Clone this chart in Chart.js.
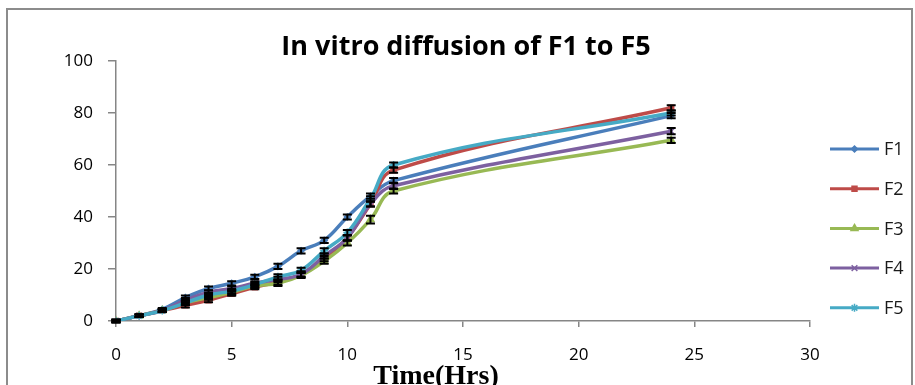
<!DOCTYPE html>
<html>
<head>
<meta charset="utf-8">
<script src="https://cdn.jsdelivr.net/npm/chart.js@4/dist/chart.umd.min.js"></script>
<style>
  html, body { margin: 0; padding: 0; background: #fff; }
  #wrap { width: 915px; height: 385px; }
</style>
</head>
<body>
<div id="wrap"><canvas id="c" width="915" height="385"></canvas></div>
<script>
// ---- data ----
const times = [0, 1, 2, 3, 4, 5, 6, 7, 8, 9, 10, 11, 12, 24];
const seriesNames = ["F1", "F2", "F3", "F4", "F5"];
const f1 = [0, 2, 4.5, 9, 12.5, 14.5, 17, 21, 27, 31, 40, 48, 54, 79];
const f2 = [0, 2, 4, 6, 8, 10.5, 13, 15, 18, 24, 32, 45, 58, 82];
const f3 = [0, 2, 4, 7, 9, 11, 13.5, 14.5, 17.5, 23, 30, 39, 50, 69.5];
const f4 = [0, 2, 4, 8, 11, 12.5, 14.5, 16, 18, 25, 32, 45, 52, 73];
const f5 = [0, 2, 4, 7, 10, 11.5, 14, 17, 19.5, 27, 34, 47, 60, 80];
const err1 = [0.5, 0.5, 0.5, 0.8, 0.8, 0.8, 0.8, 1, 1, 1, 1, 1, 1, 1];
const err2 = [0.5, 0.5, 0.5, 0.8, 0.8, 0.8, 0.8, 1, 1, 1, 1, 1, 1, 1];
const err3 = [0.5, 0.5, 0.5, 0.8, 0.8, 0.8, 0.8, 1, 1, 1, 1, 1.5, 1, 1];
const err4 = [0.5, 0.5, 0.5, 0.8, 0.8, 0.8, 0.8, 1, 1, 1, 1, 1, 1.2, 1.2];
const err5 = [0.5, 0.5, 0.5, 0.8, 0.8, 0.8, 0.8, 1, 1, 1, 1, 1, 1, 1];
const xTicks = [0, 5, 10, 15, 20, 25, 30];
const yTicks = [0, 20, 40, 60, 80, 100];
const titleText = "In vitro diffusion of F1 to F5";
const xTitleText = "Time(Hrs)";

// ---- styles ----
const colors = ["#4A7EBB", "#BE4B48", "#98B954", "#7D60A0", "#46AAC5"];
const markers = ["rectRot", "rect", "triangle", "crossRot", "star"];
const markerR = [3, 3.5, 4, 4, 4];
const values = [f1, f2, f3, f4, f5];
const errs = [err1, err2, err3, err4, err5];
const tickFont = { family: '"Liberation Sans Narrow", "Open Sans", sans-serif', size: 17 };

const datasets = values.map((vals, i) => ({
  label: seriesNames[i],
  data: times.map((t, j) => ({ x: t, y: vals[j] })),
  borderColor: colors[i],
  backgroundColor: colors[i],
  borderWidth: 3.5,
  pointStyle: markers[i],
  pointRadius: markerR[i],
  pointBorderWidth: 1.5,
  pointBorderColor: colors[i],
  pointBackgroundColor: colors[i],
  tension: 0.4,
  order: 4 - i
}));

const framePlugin = {
  id: 'frame',
  beforeDraw(chart) {
    const ctx = chart.ctx;
    ctx.save();
    ctx.fillStyle = '#fff';
    ctx.fillRect(0, 0, chart.width, chart.height);
    ctx.strokeStyle = '#8c8c8c';
    ctx.lineWidth = 2;
    ctx.strokeRect(7, 9, 905, 420);
    ctx.restore();
  }
};

const errorBarPlugin = {
  id: 'errorBars',
  afterDatasetsDraw(chart) {
    const ctx = chart.ctx;
    const ys = chart.scales.y;
    ctx.save();
    ctx.strokeStyle = '#000';
    ctx.lineWidth = 2;
    chart.data.datasets.forEach((ds, i) => {
      const meta = chart.getDatasetMeta(i);
      meta.data.forEach((pt, j) => {
        const v = ds.data[j].y;
        const e = errs[i][j];
        if (!e) return;
        const yT = ys.getPixelForValue(v + e);
        const yB = ys.getPixelForValue(v - e);
        ctx.beginPath();
        ctx.moveTo(pt.x, yT); ctx.lineTo(pt.x, yB);
        ctx.moveTo(pt.x - 4.5, yT); ctx.lineTo(pt.x + 4.5, yT);
        ctx.moveTo(pt.x - 4.5, yB); ctx.lineTo(pt.x + 4.5, yB);
        ctx.stroke();
      });
    });
    ctx.restore();
  }
};

const textPlugin = {
  id: 'texts',
  afterDraw(chart) {
    const ctx = chart.ctx;
    ctx.save();
    // title
    ctx.fillStyle = '#000';
    ctx.textAlign = 'center';
    ctx.textBaseline = 'middle';
    ctx.font = 'bold 27px "Open Sans", sans-serif';
    ctx.fillText(titleText, 466, 47);
    // x axis title
    ctx.font = 'bold 28px "Liberation Serif", serif';
    ctx.textBaseline = 'alphabetic';
    ctx.fillText(xTitleText, 436, 384);
    // legend
    ctx.textAlign = 'left';
    ctx.textBaseline = 'middle';
    ctx.font = '18px "Open Sans", sans-serif';
    seriesNames.forEach((name, i) => {
      const y = 149 + i * 39.7;
      ctx.strokeStyle = colors[i];
      ctx.lineWidth = 3;
      ctx.beginPath();
      ctx.moveTo(830, y); ctx.lineTo(879, y);
      ctx.stroke();
      if (Chart.helpers && Chart.helpers.drawPoint) {
        ctx.fillStyle = colors[i];
        ctx.strokeStyle = colors[i];
        ctx.lineWidth = 1.5;
        Chart.helpers.drawPoint(ctx, { pointStyle: markers[i], radius: markerR[i], rotation: 0, borderWidth: 1.5 }, 854.5, y);
      }
      ctx.fillStyle = '#1a1a1a';
      ctx.fillText(name, 884, y + 1);
    });
    ctx.restore();
  }
};

new Chart(document.getElementById('c'), {
  type: 'line',
  data: { datasets },
  options: {
    responsive: false,
    animation: false,
    events: [],
    layout: { padding: { top: 61, right: 105, bottom: 0, left: 0 } },
    plugins: { legend: { display: false }, title: { display: false }, tooltip: { enabled: false } },
    scales: {
      x: {
        type: 'linear', min: 0, max: 30,
        afterFit(s) { s.height = 64; },
        afterBuildTicks(s) { s.ticks = xTicks.map(v => ({ value: v })); },
        ticks: { color: '#000', font: tickFont, padding: 18 },
        grid: { display: true, drawOnChartArea: false, drawTicks: true, tickLength: 6, color: '#868686', lineWidth: 1.5 },
        border: { display: true, color: '#868686', width: 1.5 }
      },
      y: {
        type: 'linear', min: 0, max: 100,
        afterFit(s) { s.width = 116; },
        afterBuildTicks(s) { s.ticks = yTicks.map(v => ({ value: v })); },
        ticks: { color: '#000', font: tickFont, padding: 15 },
        grid: { display: true, drawOnChartArea: false, drawTicks: true, tickLength: 8, color: '#868686', lineWidth: 1.5 },
        border: { display: true, color: '#868686', width: 1.5 }
      }
    }
  },
  plugins: [framePlugin, errorBarPlugin, textPlugin]
});
</script>
</body>
</html>
